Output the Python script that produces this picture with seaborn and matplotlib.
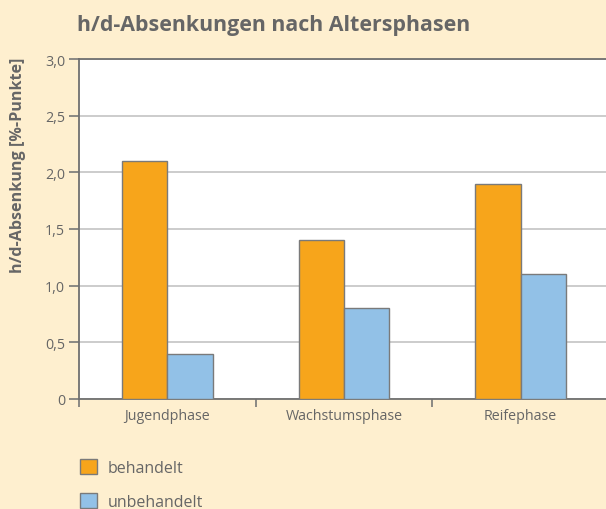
import matplotlib
matplotlib.use("Agg")
import matplotlib.pyplot as plt
import seaborn as sns
import pandas as pd
from matplotlib.ticker import FixedLocator, FuncFormatter

phasen = ["Jugendphase", "Wachstumsphase", "Reifephase"]
behandelt = [2.1, 1.4, 1.9]
unbehandelt = [0.4, 0.8, 1.1]
serien = ["behandelt", "unbehandelt"]

bg = "#FEEFCF"
text_col = "#666666"
farben = {"behandelt": "#F7A51B", "unbehandelt": "#92C1E7"}

df = pd.DataFrame(
    {
        "Phase": phasen * 2,
        "Wert": behandelt + unbehandelt,
        "Gruppe": ["behandelt"] * 3 + ["unbehandelt"] * 3,
    }
)

sns.set_style("white")
plt.rcParams["font.family"] = ["Open Sans", "DejaVu Sans"]

fig = plt.figure(figsize=(6.06, 5.10), dpi=100, facecolor=bg)
ax = fig.add_axes([79 / 606, 1 - 400 / 510, 530 / 606, 340 / 510])
ax.set_facecolor("white")

sns.barplot(
    data=df,
    x="Phase",
    y="Wert",
    hue="Gruppe",
    hue_order=serien,
    palette=farben,
    width=0.515,
    saturation=1,
    edgecolor="#7a7a7a",
    linewidth=1,
    ax=ax,
    legend=False,
    zorder=3,
)

ax.set_xlim(-0.5, 2.5)
ax.set_ylim(0, 3.0)
ax.set_yticks([0, 0.5, 1.0, 1.5, 2.0, 2.5, 3.0])
ax.yaxis.set_major_formatter(
    FuncFormatter(lambda v, p: "0" if v == 0 else f"{v:.1f}".replace(".", ","))
)
ax.grid(axis="y", color="#c8c8c8", linewidth=1.3, zorder=0)
ax.set_axisbelow(True)

# category ticks between groups, labels centered
ax.xaxis.set_minor_locator(FixedLocator([-0.5, 0.5, 1.5]))
ax.tick_params(axis="x", which="major", bottom=False, colors=text_col,
               labelsize=10.3, pad=3)
ax.tick_params(axis="x", which="minor", bottom=True, length=6, width=1.2,
               color="#777777", direction="out")
ax.tick_params(axis="y", left=True, length=7, width=1.2, color="#777777",
               direction="out", labelcolor=text_col, labelsize=10.3, pad=3)

for s in ["left", "bottom", "top"]:
    ax.spines[s].set_color("#707070")
    ax.spines[s].set_linewidth(1.3)
ax.spines["right"].set_visible(False)

ax.set_xlabel("")
ax.set_ylabel("h/d-Absenkung [%-Punkte]", fontsize=11.6, fontweight="bold",
              color=text_col)
ax.yaxis.set_label_coords(-0.1, 0.69)

fig.text(77 / 606, 1 - 25 / 510, "h/d-Absenkungen nach Altersphasen",
         fontsize=15.4, fontweight="bold", color=text_col, va="center", ha="left")

handles = [plt.Rectangle((0, 0), 1, 1, facecolor=farben[s], edgecolor="#7a7a7a") for s in serien]
leg = fig.legend(
    handles,
    serien,
    loc="upper left",
    bbox_to_anchor=(66 / 606, 1 - 446 / 510),
    frameon=False,
    fontsize=11.5,
    handlelength=1.05,
    handleheight=1.05,
    handletextpad=0.65,
    labelspacing=1.05,
)
for t in leg.get_texts():
    t.set_color(text_col)

fig.savefig("out.png", dpi=100, facecolor=bg)
